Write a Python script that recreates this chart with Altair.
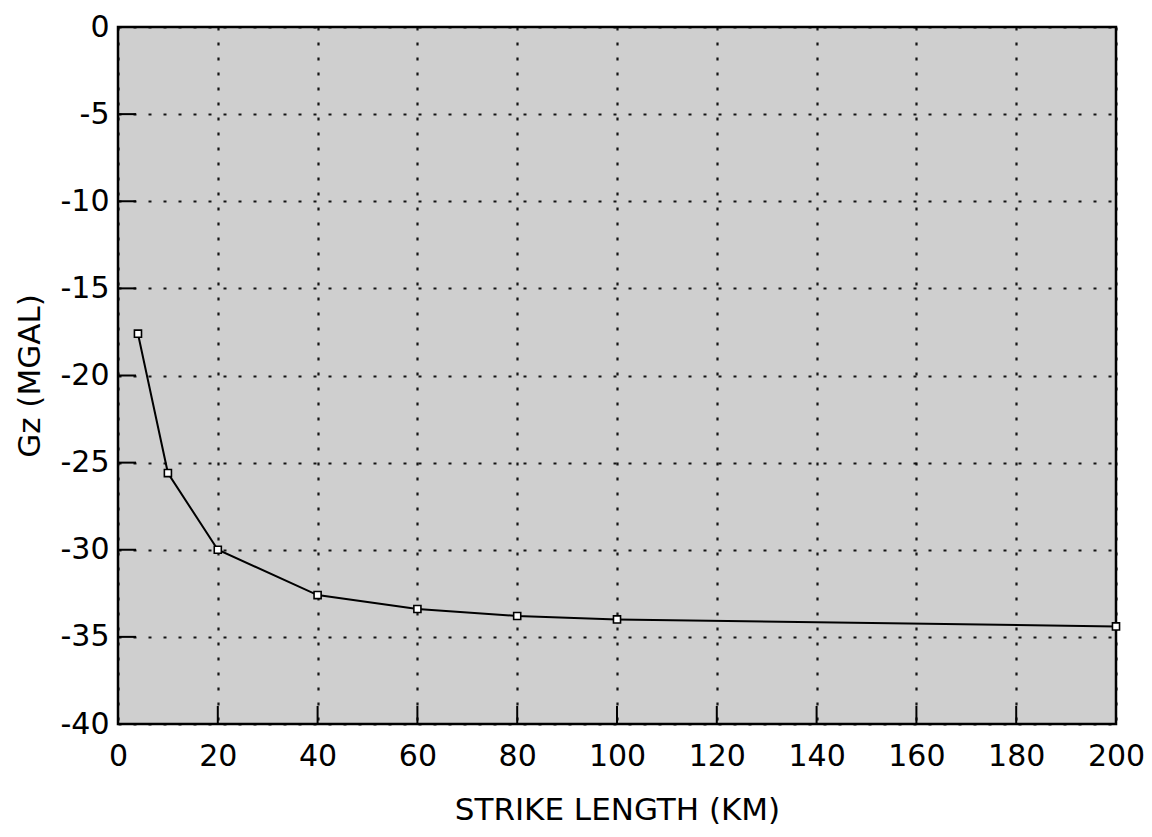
import altair as alt
import pandas as pd

# Data
strike_km = [4, 10, 20, 40, 60, 80, 100, 200]
gz_mgal = [-17.6, -25.6, -30.0, -32.6, -33.4, -33.8, -34.0, -34.4]

x_ticks = [0, 20, 40, 60, 80, 100, 120, 140, 160, 180, 200]
y_ticks = [0, -5, -10, -15, -20, -25, -30, -35, -40]
x_inner_ticks = [20, 40, 60, 80, 100, 120, 140, 160, 180]
y_inner_ticks = [-5, -10, -15, -20, -25, -30, -35]

W, H = 998, 697
FONT = "DejaVu Sans"

df = pd.DataFrame({"x": strike_km, "y": gz_mgal})
tx = pd.DataFrame({"x": x_inner_ticks})
ty = pd.DataFrame({"y": y_inner_ticks})

xscale = alt.Scale(domain=[0, 200], nice=False, zero=False)
yscale = alt.Scale(domain=[-40, 0], nice=False, zero=False)

xaxis = alt.Axis(
    values=x_ticks, title="STRIKE LENGTH (KM)", ticks=False, domain=False,
    labelFontSize=30, labelPadding=17, titleFontSize=31, titlePadding=24,
    titleFontWeight="normal", labelColor="black", titleColor="black",
    grid=True, gridColor="black", gridDash=[3, 12], gridWidth=2.2, gridOpacity=0.9,
    labelFont=FONT, titleFont=FONT, labelFlush=False,
    labelExpr="toString(datum.value)",
)
yaxis = alt.Axis(
    values=y_ticks, title="Gz (MGAL)", ticks=False, domain=False,
    labelFontSize=30, labelPadding=9, titleFontSize=31, titlePadding=14,
    titleFontWeight="normal", labelColor="black", titleColor="black",
    grid=True, gridColor="black", gridDash=[3, 12], gridWidth=1.8, gridOpacity=0.9,
    labelFont=FONT, titleFont=FONT, labelFlush=False,
    labelExpr="toString(datum.value)",
)

line = alt.Chart(df).mark_line(color="black", strokeWidth=2).encode(
    x=alt.X("x:Q", scale=xscale, axis=xaxis),
    y=alt.Y("y:Q", scale=yscale, axis=yaxis),
)
pts = alt.Chart(df).mark_point(
    shape="square", size=50, filled=True, fill="white", stroke="black",
    strokeWidth=1.6, opacity=1,
).encode(
    x=alt.X("x:Q", scale=xscale, axis=xaxis),
    y=alt.Y("y:Q", scale=yscale, axis=yaxis),
)
xt = alt.Chart(tx).mark_rule(color="black", strokeWidth=2).encode(
    x=alt.X("x:Q", scale=xscale, axis=xaxis),
    y=alt.value(H),
    y2=alt.value(H - 18),
)
yt = alt.Chart(ty).mark_rule(color="black", strokeWidth=2).encode(
    y=alt.Y("y:Q", scale=yscale, axis=yaxis),
    x=alt.value(0),
    x2=alt.value(18),
)

chart = alt.layer(xt, yt, line, pts).properties(
    width=W, height=H,
    autosize=alt.AutoSizeParams(type="none"),
    padding={"left": 110, "top": 19, "right": 28, "bottom": 104},
    background="white",
).configure_view(
    fill="#cfcfcf", stroke="black", strokeWidth=2.5,
)

chart.save("out.html", embed_options={"renderer": "svg", "actions": False})
